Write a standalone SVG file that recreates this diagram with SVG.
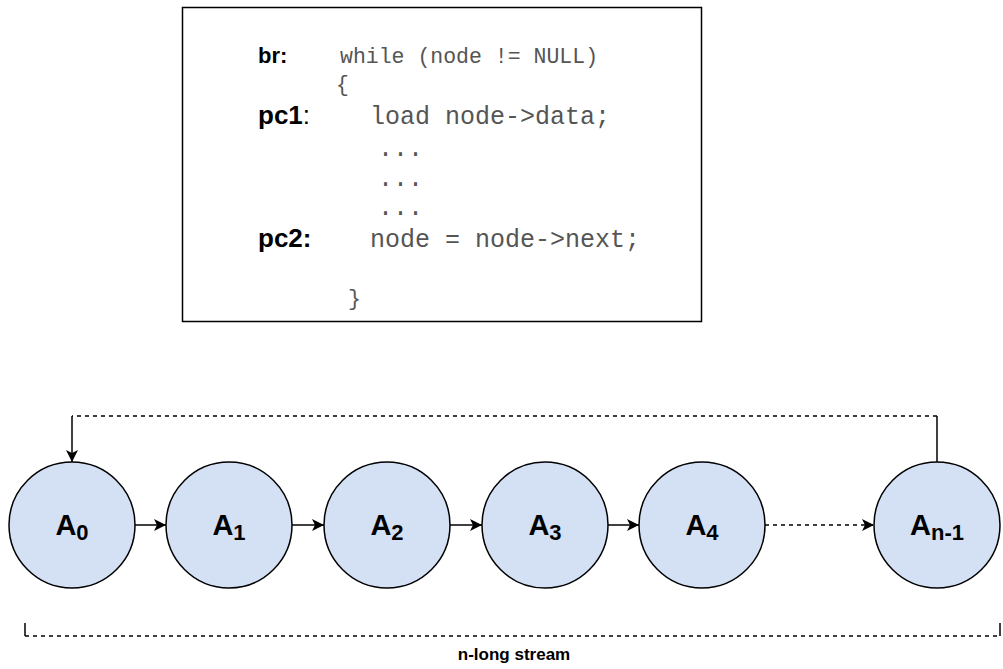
<svg xmlns="http://www.w3.org/2000/svg" width="1003" height="669" viewBox="0 0 1003 669">
<style>
.node circle{fill:#d4e1f5;stroke:#000;stroke-width:1.5}
.lbl{font-family:"Liberation Sans",Arial,sans-serif;font-weight:bold;font-size:29px;fill:#000;text-anchor:middle}
.sub{font-size:22px}
.code{font-family:"Liberation Mono","Courier New",monospace;fill:#555}
.key{font-family:"Liberation Sans",Arial,sans-serif;fill:#000}
.ln{stroke:#000;stroke-width:1.5;fill:none}
.dash{stroke-dasharray:4 4}
</style>
<defs>
<marker id="ah" viewBox="0 0 12 12" refX="12" refY="6" markerWidth="12" markerHeight="12" orient="auto" markerUnits="userSpaceOnUse">
<path d="M0,0 L12,6 L0,12 L3,6 Z" fill="#000"/>
</marker>
</defs>
<rect width="1003" height="669" fill="#fff"/>
<g id="code-box">
<rect x="182.5" y="7.5" width="519" height="314" fill="#fff" stroke="#000" stroke-width="1.5"/>
<text class="key" x="258" y="63" font-size="22" font-weight="bold">br:</text>
<text class="code" x="340" y="63" font-size="21.5">while (node != NULL)</text>
<text class="code" x="336" y="91" font-size="21.5">{</text>
<text class="key" x="258" y="124" font-size="26"><tspan font-weight="bold">pc1</tspan>:</text>
<text class="code" x="370" y="124" font-size="25">load node-&gt;data;</text>
<text class="code" x="378" y="156" font-size="25">...</text>
<text class="code" x="378" y="186" font-size="25">...</text>
<text class="code" x="378" y="215" font-size="25">...</text>
<text class="key" x="258" y="247" font-size="26" font-weight="bold">pc2:</text>
<text class="code" x="370" y="247" font-size="25">node = node-&gt;next;</text>
<text class="code" x="348" y="305" font-size="21.5">}</text>
</g>
<g id="connectors">
<line class="ln" x1="135" y1="525" x2="166" y2="525" marker-end="url(#ah)"/>
<line class="ln" x1="292" y1="525" x2="324" y2="525" marker-end="url(#ah)"/>
<line class="ln" x1="450" y1="525" x2="482" y2="525" marker-end="url(#ah)"/>
<line class="ln" x1="608" y1="525" x2="639" y2="525" marker-end="url(#ah)"/>
<line class="ln dash" x1="765" y1="525" x2="874" y2="525" marker-end="url(#ah)"/>
<line class="ln" x1="937" y1="462" x2="937" y2="416"/>
<line class="ln dash" x1="937" y1="416" x2="72" y2="416"/>
<line class="ln" x1="72" y1="416" x2="72" y2="462" marker-end="url(#ah)"/>
</g>
<g id="A0" class="node"><circle cx="72" cy="525" r="63"/><text class="lbl" x="72" y="535">A<tspan class="sub" dy="5">0</tspan></text></g>
<g id="A1" class="node"><circle cx="229" cy="525" r="63"/><text class="lbl" x="229" y="535">A<tspan class="sub" dy="5">1</tspan></text></g>
<g id="A2" class="node"><circle cx="387" cy="525" r="63"/><text class="lbl" x="387" y="535">A<tspan class="sub" dy="5">2</tspan></text></g>
<g id="A3" class="node"><circle cx="545" cy="525" r="63"/><text class="lbl" x="545" y="535">A<tspan class="sub" dy="5">3</tspan></text></g>
<g id="A4" class="node"><circle cx="702" cy="525" r="63"/><text class="lbl" x="702" y="535">A<tspan class="sub" dy="5">4</tspan></text></g>
<g id="An-1" class="node"><circle cx="937" cy="525" r="63"/><text class="lbl" x="937" y="535">A<tspan class="sub" dy="5">n-1</tspan></text></g>
<g id="stream-bracket">
<path class="ln" d="M25,623 V636" stroke-width="1.2"/>
<path class="ln" d="M1000,623 V636" stroke-width="1.2"/>
<line class="ln dash" x1="25" y1="636" x2="1000" y2="636" stroke-width="1.2" stroke-dasharray="3 3"/>
<text x="514" y="660" font-family="'Liberation Sans',Arial,sans-serif" font-weight="bold" font-size="17" text-anchor="middle">n-long stream</text>
</g>
</svg>
